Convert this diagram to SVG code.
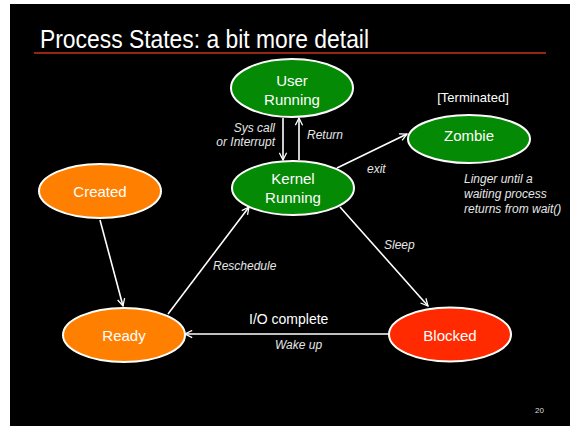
<svg xmlns="http://www.w3.org/2000/svg" width="570" height="426" viewBox="0 0 570 426">
<style>
.node{stroke:#fff;stroke-width:2}
.green{fill:#058a05}
.orange{fill:#ff8000}
.red{fill:#ff2a00}
.nt{font-family:"Liberation Sans",Arial,sans-serif;font-size:15px;fill:#fff;text-anchor:middle}
.lbl{font-family:"Liberation Sans",Arial,sans-serif;font-size:12px;fill:#e6e6e6;font-style:italic}
.conn line{stroke:#fff;stroke-width:1.6;marker-end:url(#ah)}
</style>
<defs>
<marker id="ah" viewBox="0 0 10 10" refX="9" refY="5" markerWidth="9" markerHeight="9" markerUnits="userSpaceOnUse" orient="auto">
<path d="M1,1 L9,5 L1,9" fill="none" stroke="#fff" stroke-width="1.4"/>
</marker>
</defs>
<rect x="0" y="0" width="570" height="426" fill="#fff"/>
<rect x="10" y="4" width="560" height="422" fill="#000"/>
<text x="40" y="48" font-family="'Liberation Sans',Arial,sans-serif" font-size="25.5" fill="#fff" textLength="329" lengthAdjust="spacingAndGlyphs">Process States: a bit more detail</text>
<line x1="34" y1="53" x2="546" y2="53" stroke="#c8321c" stroke-width="1.5"/>

<g class="conn">
<line x1="283" y1="118" x2="283" y2="160"/>
<line x1="299" y1="160" x2="299" y2="118"/>
<line x1="337" y1="168" x2="407" y2="134"/>
<line x1="100" y1="220" x2="123" y2="306"/>
<line x1="168" y1="314" x2="249" y2="207"/>
<line x1="340" y1="207" x2="428" y2="306"/>
<line x1="389" y1="334" x2="185" y2="334"/>
</g>

<g id="user-running">
<ellipse class="node green" cx="292" cy="88" rx="61" ry="29"/>
<text class="nt" x="292" y="86">User</text>
<text class="nt" x="292" y="105">Running</text>
</g>
<g id="kernel-running">
<ellipse class="node green" cx="293" cy="188" rx="61" ry="27"/>
<text class="nt" x="293" y="184">Kernel</text>
<text class="nt" x="293" y="203">Running</text>
</g>
<g id="zombie">
<ellipse class="node green" cx="469" cy="139" rx="61" ry="24"/>
<text class="nt" x="469" y="141">Zombie</text>
</g>
<g id="created">
<ellipse class="node orange" cx="100" cy="191" rx="61" ry="27"/>
<text class="nt" x="100" y="197">Created</text>
</g>
<g id="ready">
<ellipse class="node orange" cx="124" cy="335" rx="61" ry="27"/>
<text class="nt" x="124" y="341">Ready</text>
</g>
<g id="blocked">
<ellipse class="node red" cx="450" cy="334.5" rx="61" ry="27"/>
<text class="nt" x="450" y="341">Blocked</text>
</g>

<g id="labels">
<text x="473" y="102" font-family="'Liberation Sans',Arial,sans-serif" font-size="13" fill="#fff" text-anchor="middle">[Terminated]</text>
<text class="lbl" x="275" y="132" text-anchor="end">Sys call</text>
<text class="lbl" x="275" y="146" text-anchor="end">or Interrupt</text>
<text class="lbl" x="307" y="139">Return</text>
<text class="lbl" x="367" y="173">exit</text>
<text class="lbl" x="464" y="183" font-size="11">Linger until a</text>
<text class="lbl" x="464" y="198" font-size="11">waiting process</text>
<text class="lbl" x="464" y="213" font-size="11">returns from wait()</text>
<text class="lbl" x="384" y="249">Sleep</text>
<text class="lbl" x="213" y="270">Reschedule</text>
<text x="249" y="324" font-family="'Liberation Sans',Arial,sans-serif" font-size="14" fill="#fff">I/O complete</text>
<text class="lbl" x="275" y="349">Wake up</text>
<text x="535" y="413" font-family="'Liberation Sans',Arial,sans-serif" font-size="8" fill="#ddd">20</text>
</g>
</svg>
